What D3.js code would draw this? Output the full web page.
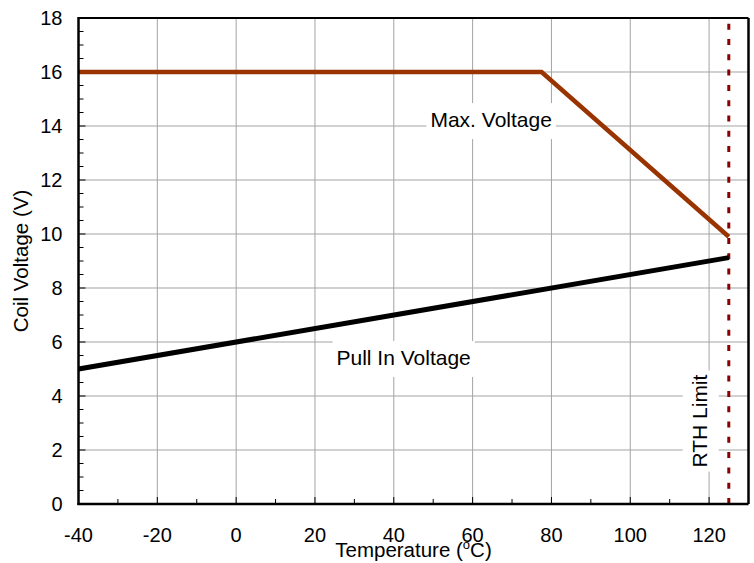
<!DOCTYPE html>
<html>
<head>
<meta charset="utf-8">
<script src="https://cdn.jsdelivr.net/npm/d3@7"></script>
<style>
   body { margin: 0; background: #fff; }
   svg { display: block; font-family: 'Liberation Sans', Arial, sans-serif; }
</style>
</head>
<body>
<div id="chart"></div>
<script>
// values
const maxTemps = [-40, 77.5, 125];
const maxVoltage = [16, 16, 9.9];
const pullInTemps = [-40, 125];
const pullInVoltage = [5, 9.125];
const rthLimit = 125;

const xTicks = [-40, -20, 0, 20, 40, 60, 80, 100, 120];
const yTicks = [0, 2, 4, 6, 8, 10, 12, 14, 16, 18];

const width = 754;
const height = 563;
const margin = { top: 18, right: 5.5, bottom: 59, left: 78.5 };

const svg = d3
   .select('#chart')
   .append('svg')
   .attr('width', width)
   .attr('height', height);

const xScale = d3
   .scaleLinear()
   .domain([-40, 130])
   .range([margin.left, width - margin.right]);
const yScale = d3
   .scaleLinear()
   .domain([0, 18])
   .range([height - margin.bottom, margin.top]);

const x0 = xScale(-40), x1 = xScale(130);
const y0 = yScale(0), y1 = yScale(18);

// grid
const grid = svg.append('g').attr('class', 'grid').attr('stroke', '#a3a3a3').attr('stroke-width', 1);
grid.selectAll('.vgrid')
   .data(xTicks.slice(1))
   .join('line')
   .attr('x1', (d) => xScale(d))
   .attr('x2', (d) => xScale(d))
   .attr('y1', y1)
   .attr('y2', y0);
grid.selectAll('.hgrid')
   .data(yTicks.slice(1, -1))
   .join('line')
   .attr('x1', x0)
   .attr('x2', x1)
   .attr('y1', (d) => yScale(d))
   .attr('y2', (d) => yScale(d));

// minor / major ticks pointing inward
const ticks = svg.append('g').attr('stroke', '#000').attr('stroke-width', 1);
ticks.selectAll('.xt')
   .data(d3.range(-30, 130, 10))
   .join('line')
   .attr('x1', (d) => xScale(d))
   .attr('x2', (d) => xScale(d))
   .attr('y1', y0)
   .attr('y2', (d) => y0 - (d % 20 === 0 ? 7 : 5));
ticks.selectAll('.yt')
   .data(d3.range(0.5, 18, 0.5))
   .join('line')
   .attr('y1', (d) => yScale(d))
   .attr('y2', (d) => yScale(d))
   .attr('x1', x0)
   .attr('x2', (d) => x0 + (d % 2 === 0 ? 7 : 5));

// annotation labels with white boxes
function boxedLabel(g, text, size) {
   const t = g.append('text')
      .attr('text-anchor', 'middle')
      .attr('font-size', size)
      .attr('fill', '#000')
      .text(text);
   const b = t.node().getBBox();
   g.insert('rect', 'text')
      .attr('x', b.x - 4)
      .attr('y', b.y - 5)
      .attr('width', b.width + 8)
      .attr('height', b.height + 13)
      .attr('fill', '#fff');
}

const maxLabel = svg.append('g')
   .attr('transform', `translate(${xScale(64.7)},${yScale(13.96)})`);
boxedLabel(maxLabel, 'Max. Voltage', 21);

const pullLabel = svg.append('g')
   .attr('transform', `translate(${xScale(42.5)},${yScale(5.15)})`);
boxedLabel(pullLabel, 'Pull In Voltage', 21);

const rthLabel = svg.append('g')
   .attr('transform', `translate(${xScale(119.4)},${yScale(3.07)}) rotate(-90)`);
boxedLabel(rthLabel, 'RTH Limit', 21);

// RTH limit dashed line, drawn from bottom up
svg.append('line')
   .attr('x1', xScale(rthLimit))
   .attr('x2', xScale(rthLimit))
   .attr('y1', y0)
   .attr('y2', y1)
   .attr('stroke', '#880000')
   .attr('stroke-width', 3)
   .attr('stroke-dasharray', '6,9.3');

const line = d3.line().x((d) => xScale(d[0])).y((d) => yScale(d[1]));

svg.append('path')
   .datum(d3.zip(maxTemps, maxVoltage))
   .attr('d', line)
   .attr('fill', 'none')
   .attr('stroke', '#993300')
   .attr('stroke-width', 4.5);

svg.append('path')
   .datum(d3.zip(pullInTemps, pullInVoltage))
   .attr('d', line)
   .attr('fill', 'none')
   .attr('stroke', '#000')
   .attr('stroke-width', 5);

// frame
svg.append('line')
   .attr('x1', x0).attr('x2', x1).attr('y1', y1).attr('y2', y1)
   .attr('stroke', '#000').attr('stroke-width', 2);
svg.append('line')
   .attr('x1', x1).attr('x2', x1).attr('y1', y1).attr('y2', y0)
   .attr('stroke', '#000').attr('stroke-width', 2.5);
svg.append('line')
   .attr('x1', x0).attr('x2', x0).attr('y1', y1 - 1).attr('y2', y0 + 1)
   .attr('stroke', '#000').attr('stroke-width', 2.5);
svg.append('line')
   .attr('x1', x0 - 1).attr('x2', x1).attr('y1', y0).attr('y2', y0)
   .attr('stroke', '#000').attr('stroke-width', 2.5);

// tick labels
svg.append('g')
   .selectAll('text')
   .data(xTicks)
   .join('text')
   .attr('x', (d) => xScale(d))
   .attr('y', y0 + 38)
   .attr('text-anchor', 'middle')
   .attr('font-size', 20)
   .text((d) => d);

svg.append('g')
   .selectAll('text')
   .data(yTicks)
   .join('text')
   .attr('x', x0 - 16)
   .attr('y', (d) => yScale(d))
   .attr('dy', '0.36em')
   .attr('text-anchor', 'end')
   .attr('font-size', 20)
   .text((d) => d);

// axis titles
const xTitle = svg.append('text')
   .attr('x', (x0 + x1) / 2)
   .attr('y', 557)
   .attr('text-anchor', 'middle')
   .attr('font-size', 20.5);
xTitle.append('tspan').text('Temperature (');
xTitle.append('tspan').attr('font-size', 13).attr('dy', -8).text('o');
xTitle.append('tspan').attr('dy', 8).text('C)');

svg.append('text')
   .attr('transform', `translate(28,${(y0 + y1) / 2}) rotate(-90)`)
   .attr('text-anchor', 'middle')
   .attr('font-size', 20.5)
   .text('Coil Voltage (V)');
</script>
</body>
</html>
